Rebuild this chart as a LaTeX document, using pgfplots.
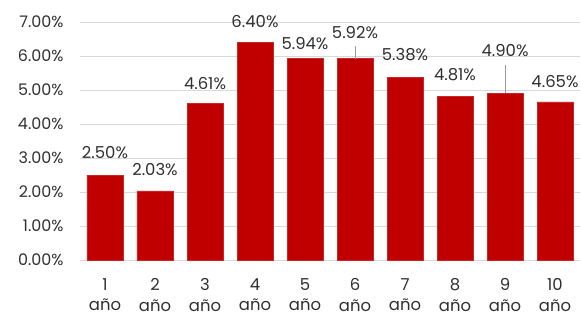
\documentclass[border=0pt]{standalone}
\usepackage{pgfplots}
\pgfplotsset{compat=1.18}
\usepackage{fontspec}
\setmainfont{Poppins}
\definecolor{barred}{HTML}{C00000}
\definecolor{txt}{HTML}{303030}
\definecolor{gridc}{HTML}{D9D9D9}
\begin{document}
\begin{tikzpicture}
\begin{axis}[
  /pgf/number format/assume math mode=true,
  scale only axis,
  width=500bp, height=238bp,
  xmin=0.5, xmax=10.5, ymin=0, ymax=7,
  axis line style={draw=none},
  major tick length=0pt,
  ymajorgrids, grid style={gridc, line width=1bp},
  ytick={0,1,...,7},
  yticklabel={\pgfmathprintnumber[fixed,fixed zerofill,precision=2]{\tick}\%},
  yticklabel style={font=\fontsize{16}{19}\selectfont, text=txt, xshift=-13bp},
  xtick={1,...,10},
  xticklabels={1\\año,2\\año,3\\año,4\\año,5\\año,6\\año,7\\año,8\\año,9\\año,10\\año},
  xticklabel style={font=\fontsize{16.5}{20.5}\selectfont, text=txt, align=center, yshift=-15bp},
  clip=false,
]
\addplot[ybar, bar width=36bp, fill=barred, draw=barred!85!white, line width=0.5bp] coordinates {
  (1,2.50) (2,2.03) (3,4.61) (4,6.40) (5,5.94) (6,5.92) (7,5.38) (8,4.81) (9,4.90) (10,4.65)
};
\addplot[draw=gray!80, line width=0.8bp] coordinates {(6,5.92) (6,6.29)};
\addplot[draw=gray!80, line width=0.8bp] coordinates {(9,4.91) (9,5.74)};
\addplot[draw=none, mark=none, point meta=explicit,
  nodes near coords={\pgfmathprintnumber[fixed,fixed zerofill,precision=2]{\pgfplotspointmeta}\%},
  every node near coord/.style={anchor=center, font=\fontsize{16.5}{20}\selectfont, text=txt}]
coordinates {
  (1,3.15) [2.50] (2,2.65) [2.03] (3,5.18) [4.61] (4,7.00) [6.40] (5,6.37) [5.94]
  (6,6.68) [5.92] (7,6.03) [5.38] (8,5.44) [4.81] (9,6.15) [4.90] (10,5.26) [4.65]
};
\end{axis}
\pgfresetboundingbox
\path (-80bp,-56bp) rectangle (501bp,260bp);
\end{tikzpicture}
\end{document}
